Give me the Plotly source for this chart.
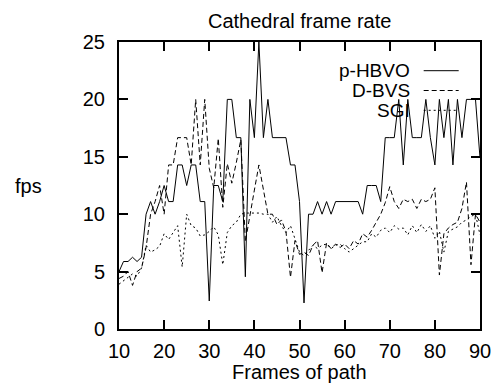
import plotly.graph_objects as go

frames = list(range(10, 91))

p_hbvo = [5.0, 5.88, 5.88, 6.25, 5.88, 6.25, 10.0, 11.1, 10.0, 11.1,
          12.5, 11.1, 11.1, 14.29, 14.29, 12.5, 14.29, 14.29, 11.1, 11.1,
          2.44, 12.5, 12.5, 11.1, 20.0, 20.0, 16.67, 16.67, 4.55, 20.0,
          16.67, 25.0, 16.67, 20.0, 16.67, 16.67, 16.67, 16.67, 14.29, 14.29,
          11.1, 2.27, 10.0, 10.0, 11.1, 10.0, 11.1, 10.0, 11.1, 11.1,
          11.1, 11.1, 11.1, 11.1, 10.0, 12.5, 12.5, 12.5, 11.1, 16.67,
          16.67, 16.67, 20.0, 14.29, 20.0, 16.67, 16.67, 16.67, 20.0, 16.67,
          14.29, 20.0, 16.67, 20.0, 14.29, 20.0, 16.67, 20.0, 20.0, 20.0,
          14.9]

d_bvs = [4.4, 4.6, 5.0, 3.8, 5.0, 5.3, 7.1, 10.0, 11.1, 12.5,
         10.0, 14.29, 14.29, 16.67, 16.67, 16.67, 14.29, 20.0, 14.29, 20.0,
         14.0, 12.3, 16.6, 10.6, 14.4, 12.7, 14.5, 16.5, 7.6, 10.0,
         12.1, 14.29, 12.1, 10.0, 10.0, 9.1, 9.5, 8.5, 4.5, 7.7,
         6.5, 6.7, 6.4, 7.3, 7.7, 4.9, 7.5, 7.0, 7.4, 7.1,
         7.4, 7.0, 7.7, 7.4, 8.3, 8.0, 8.6, 9.3, 10.0, 11.0,
         12.4, 11.1, 10.5, 11.3, 11.1, 11.3, 10.5, 11.3, 11.1, 11.3,
         12.3, 4.7, 8.3, 8.8, 9.1, 9.3, 10.5, 12.8, 5.6, 10.0,
         9.3]

sgi = [3.9, 4.2, 4.5, 4.8, 4.6, 5.3, 7.3, 6.7, 6.9, 7.2,
       8.3, 7.8, 8.4, 9.0, 5.4, 10.0, 9.0, 8.8, 8.1, 8.2,
       8.5, 8.9, 8.2, 5.6, 8.4, 9.0, 9.3, 10.0, 10.1, 10.1,
       10.1, 10.1, 10.0, 10.0, 9.3, 9.8, 9.0, 8.4, 9.0, 7.8,
       6.7, 6.4, 6.9, 7.3, 7.0, 7.3, 7.4, 7.0, 7.3, 7.4,
       7.0, 6.7, 7.0, 7.3, 7.6, 7.6, 8.3, 8.0, 8.6, 8.8,
       8.4, 9.0, 8.7, 8.8, 8.2, 9.0, 8.4, 9.1, 8.5, 9.0,
       7.9, 8.5, 6.7, 8.5, 8.7, 8.9, 9.3, 9.5, 9.8, 10.0,
       8.2]

series_names = ["p-HBVO", "D-BVS", "SGI"]
series_dash = ["solid", "5px,3px", "2px,3px"]
x_ticks = [10, 20, 30, 40, 50, 60, 70, 80, 90]
y_ticks = [0, 5, 10, 15, 20, 25]

FONT = "Liberation Sans, Arial, Helvetica, sans-serif"

fig = go.Figure()
for name, vals, dash in zip(series_names, [p_hbvo, d_bvs, sgi], series_dash):
    fig.add_trace(go.Scatter(x=frames, y=vals, mode="lines", name=name,
                             line=dict(color="black", width=1, dash=dash),
                             showlegend=False))

# gnuplot-style key: right-aligned text with sample line to its right
key_y = [0.900, 0.831, 0.762]
for name, dash, ky in zip(series_names, series_dash, key_y):
    fig.add_annotation(x=0.811, y=ky, xref="paper", yref="paper", text=name,
                       showarrow=False, xanchor="right", yanchor="middle",
                       font=dict(size=19, color="black", family=FONT))
    fig.add_shape(type="line", xref="paper", yref="paper", x0=0.844, x1=0.941,
                  y0=ky, y1=ky, line=dict(color="black", width=1, dash=dash))

fig.add_annotation(x=0.5, y=1.073, xref="paper", yref="paper",
                   text="Cathedral frame rate", showarrow=False,
                   xanchor="center", yanchor="middle",
                   font=dict(size=20, color="black", family=FONT))
fig.add_annotation(x=0.5, y=-0.151, xref="paper", yref="paper",
                   text="Frames of path", showarrow=False,
                   xanchor="center", yanchor="middle",
                   font=dict(size=20, color="black", family=FONT))
fig.add_annotation(x=-0.251, y=0.498, xref="paper", yref="paper",
                   text="fps", showarrow=False,
                   xanchor="center", yanchor="middle",
                   font=dict(size=20, color="black", family=FONT))

axis_common = dict(showline=True, linecolor="black", linewidth=2, mirror="ticks",
                   ticks="inside", ticklen=9, tickwidth=1.5, tickcolor="black",
                   showgrid=False, zeroline=False,
                   tickfont=dict(size=20, color="black", family=FONT))

fig.update_xaxes(range=[10, 90], tickvals=x_ticks, ticklabelstandoff=3, **axis_common)
fig.update_yaxes(range=[0, 25], tickvals=y_ticks, ticklabelstandoff=8, **axis_common)

fig.update_layout(width=503, height=385,
                  margin=dict(l=119, r=13, t=42, b=56),
                  paper_bgcolor="white", plot_bgcolor="white",
                  font=dict(family=FONT, color="black"))

fig.write_html("out.html")
